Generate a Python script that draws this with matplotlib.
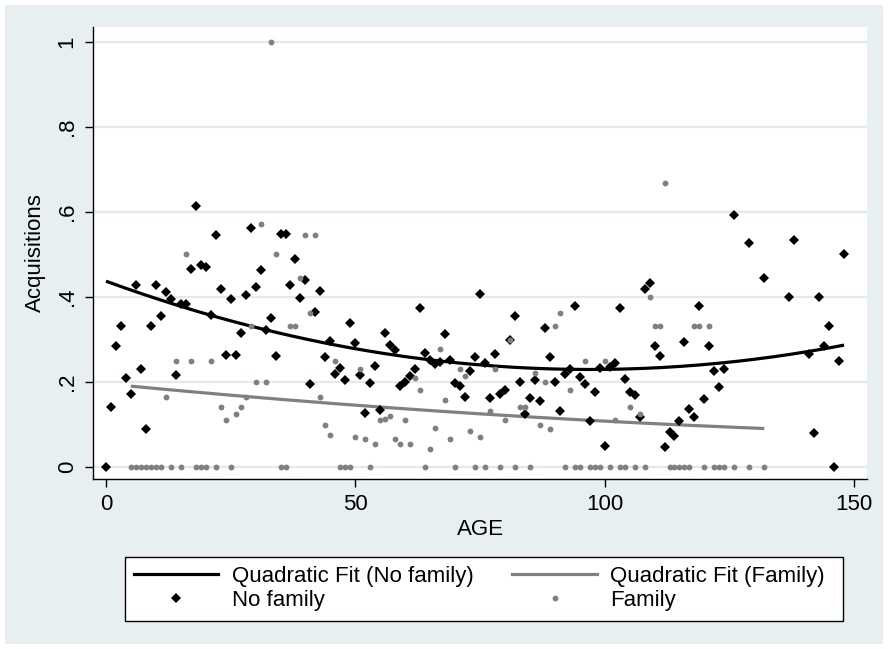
import matplotlib.pyplot as plt
import numpy as np
from matplotlib.patches import Rectangle
from matplotlib.lines import Line2D

plt.rcParams['font.family'] = ['Liberation Sans', 'DejaVu Sans']

# No family: (age, acquisitions)
nofam_age = [0, 1, 2, 3, 4, 5, 6, 7, 8, 9, 10, 11, 12, 13, 14, 15, 16, 17, 18, 19,
             20, 21, 22, 23, 24, 25, 26, 27, 28, 29, 30, 31, 32, 33, 34, 35, 36, 37, 38, 39,
             40, 41, 42, 43, 44, 45, 46, 47, 48, 49, 50, 51, 52, 53, 54, 55, 56, 57, 58, 59,
             60, 61, 62, 63, 64, 65, 66, 67, 68, 69, 70, 71, 72, 73, 74, 75, 76, 77, 78, 79,
             80, 81, 82, 83, 84, 85, 86, 87, 88, 89, 90, 91, 92, 93, 94, 95, 96, 97, 98, 99,
             100, 101, 102, 103, 104, 105, 106, 107, 108, 109, 110, 111, 112, 113, 114, 115,
             116, 117, 118, 119, 120, 121, 122, 123, 124, 126, 129, 132, 137, 138, 141, 142,
             143, 144, 145, 146, 147, 148]
nofam_acq = [0, 0.141, 0.285, 0.332, 0.209, 0.173, 0.428, 0.23, 0.09, 0.332,
             0.428, 0.355, 0.412, 0.395, 0.217, 0.383, 0.383, 0.465, 0.614, 0.475,
             0.47, 0.358, 0.546, 0.418, 0.263, 0.395, 0.263, 0.315, 0.405, 0.562,
             0.423, 0.464, 0.322, 0.35, 0.262, 0.548, 0.548, 0.428, 0.49, 0.397,
             0.44, 0.195, 0.364, 0.415, 0.26, 0.296, 0.218, 0.232, 0.205, 0.338,
             0.291, 0.216, 0.128, 0.197, 0.238, 0.134, 0.315, 0.287, 0.275, 0.19,
             0.2, 0.214, 0.231, 0.374, 0.269, 0.251, 0.243, 0.247, 0.312, 0.251,
             0.197, 0.19, 0.164, 0.226, 0.258, 0.407, 0.244, 0.162, 0.265, 0.173,
             0.181, 0.299, 0.356, 0.199, 0.124, 0.162, 0.206, 0.156, 0.326, 0.258,
             0.199, 0.132, 0.22, 0.23, 0.379, 0.213, 0.195, 0.109, 0.177, 0.232,
             0.049, 0.236, 0.244, 0.375, 0.207, 0.177, 0.169, 0.118, 0.419, 0.432,
             0.285, 0.262, 0.048, 0.083, 0.073, 0.109,
             0.295, 0.136, 0.118, 0.379, 0.159, 0.285, 0.226, 0.189, 0.23, 0.593,
             0.526, 0.444, 0.4, 0.534, 0.266, 0.081,
             0.4, 0.285, 0.332, 0, 0.249, 0.5]

# Family: (age, acquisitions)
fam_zero_age = [5, 6, 7, 8, 9, 10, 11, 13, 15, 18, 19, 20, 22, 25, 35, 36, 47, 48, 49,
                53, 64, 70, 74, 76, 79, 82, 85, 92, 94, 95, 97, 98, 99, 101, 103, 104,
                106, 108, 113, 114, 115, 116, 117, 120, 122, 123, 124, 126, 129, 132]
fam_pos_age = [12, 14, 16, 17, 21, 23, 24, 26, 27, 28, 29, 30, 31, 32, 33, 34, 37, 38,
               39, 40, 41, 42, 43, 44, 45, 46, 50, 51, 52, 54, 55, 56, 57, 58, 59, 60,
               61, 62, 63, 65, 66, 67, 68, 69, 71, 72, 73, 75, 77, 78, 80, 81, 83, 84,
               86, 87, 88, 89, 90, 91, 93, 96, 100, 102, 105, 107, 109, 110, 111, 112,
               118, 119, 121]
fam_pos_acq = [0.165, 0.25, 0.5, 0.25, 0.25, 0.142, 0.11, 0.125, 0.142, 0.165, 0.332,
               0.2, 0.571, 0.2, 1.0, 0.5, 0.332, 0.332,
               0.444, 0.546, 0.363, 0.546, 0.165, 0.098, 0.075, 0.25, 0.071, 0.23,
               0.067, 0.055, 0.11, 0.114, 0.12, 0.067, 0.055, 0.11,
               0.055, 0.209, 0.181, 0.042, 0.092, 0.278, 0.158, 0.067, 0.23, 0.214,
               0.084, 0.071, 0.132, 0.23, 0.11, 0.299, 0.142, 0.142,
               0.222, 0.098, 0.199, 0.09, 0.332, 0.363, 0.181, 0.249, 0.249, 0.11,
               0.142, 0.124, 0.401, 0.332, 0.332, 0.667,
               0.332, 0.332, 0.332]

# quadratic fit curves (age, fitted value)
fit_nofam_age = [0, 35, 75, 93, 113, 148]
fit_nofam_val = [0.437, 0.315, 0.240, 0.230, 0.235, 0.287]
fit_fam_age = [5, 35, 75, 113, 132]
fit_fam_val = [0.189, 0.162, 0.124, 0.099, 0.092]

fam_age = np.array(fam_zero_age + fam_pos_age, dtype=float)
fam_acq = np.array([0.0] * len(fam_zero_age) + fam_pos_acq)

bg = '#e8eff1'
grid_c = '#e2eaed'
gray = '#808080'

fig = plt.figure(figsize=(8.88, 6.49), dpi=100, facecolor='white')
fig.patches.append(Rectangle((5 / 888, 5 / 649), 878 / 888, 639 / 649,
                             transform=fig.transFigure, facecolor=bg,
                             edgecolor='none', zorder=-10))

ax = fig.add_axes([93 / 888, 1 - 479 / 649, 774 / 888, 452 / 649])
ax.set_facecolor('white')


def qcurve(x, y):
    c = np.polyfit(x, y, 2)
    xs = np.linspace(min(x), max(x), 200)
    return xs, np.polyval(c, xs)


xs1, ys1 = qcurve(fit_nofam_age, fit_nofam_val)
xs2, ys2 = qcurve(fit_fam_age, fit_fam_val)

ax.plot(xs1, ys1, color='black', lw=2.3, zorder=3, solid_capstyle='butt')
ax.plot(xs2, ys2, color=gray, lw=2.3, zorder=3, solid_capstyle='butt')
ax.plot(nofam_age, nofam_acq, 'D', color='black', ms=4.6, mew=0, zorder=4)
ax.plot(fam_age, fam_acq, 'o', color=gray, ms=4.2, mew=0, zorder=4)

ax.set_xlim(-2.6, 152.6)
ax.set_ylim(-0.028, 1.035)
ax.set_xticks([0, 50, 100, 150])
ax.set_yticks([0, 0.2, 0.4, 0.6, 0.8, 1.0])
ax.set_yticklabels(['0', '.2', '.4', '.6', '.8', '1'], rotation=90, va='center')
ax.tick_params(axis='both', labelsize=16, length=6, width=1, color='black', pad=5)
ax.grid(axis='y', color=grid_c, lw=1.6)
ax.set_axisbelow(True)
for s in ['top', 'right']:
    ax.spines[s].set_visible(False)
for s in ['left', 'bottom']:
    ax.spines[s].set_linewidth(1)
ax.set_xlabel('AGE', fontsize=16, labelpad=3)
ax.set_ylabel('Acquisitions', fontsize=16, labelpad=8)

# legend box
fig.patches.append(Rectangle((125 / 888, 1 - 621 / 649), 718 / 888, 64 / 649,
                             transform=fig.transFigure, facecolor='white',
                             edgecolor='black', lw=1, zorder=-5))

handles = [Line2D([], [], color='black', lw=2.3),
           Line2D([], [], ls='none', marker='D', color='black', ms=4.6, mew=0),
           Line2D([], [], color=gray, lw=2.3),
           Line2D([], [], ls='none', marker='o', color=gray, ms=4.2, mew=0)]
labels = ['Quadratic Fit (No family)', 'No family',
          'Quadratic Fit (Family)', 'Family']
leg = fig.legend(handles, labels, ncol=2, loc='upper left',
                 bbox_to_anchor=(125 / 888, 1 - 557 / 649),
                 fontsize=16, frameon=False,
                 handlelength=3.8, handletextpad=0.6, labelspacing=0.15,
                 borderpad=0.4, borderaxespad=0, columnspacing=1.75)

fig.savefig('out.png', dpi=100, facecolor=fig.get_facecolor())
